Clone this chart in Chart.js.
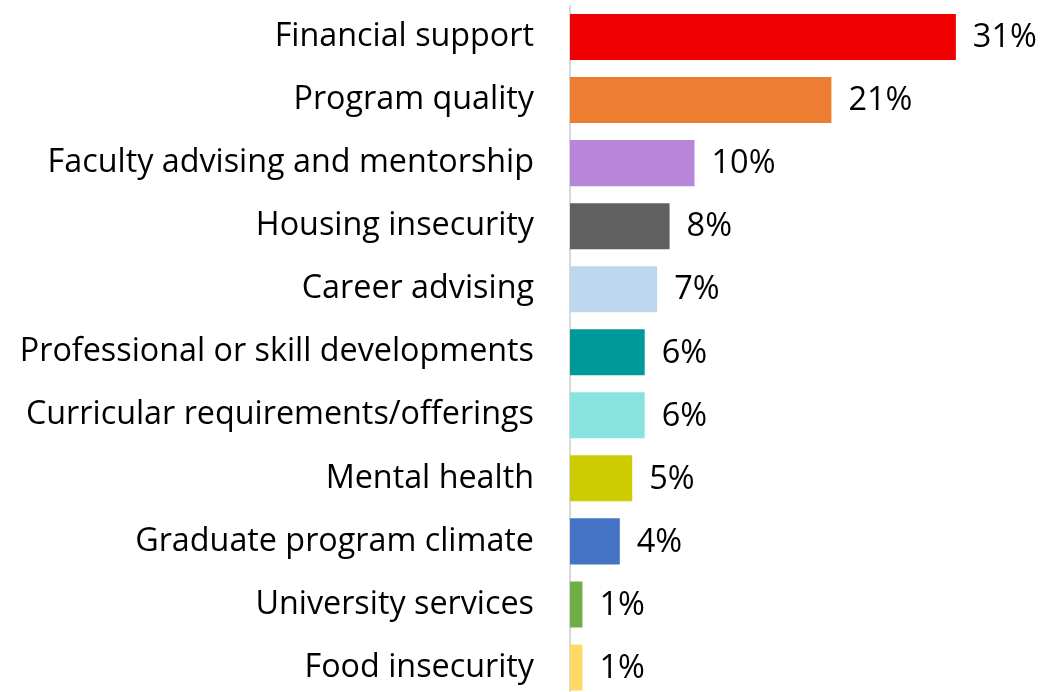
<!DOCTYPE html>
<html>
<head>
<meta charset="utf-8">
<script src="https://cdn.jsdelivr.net/npm/chart.js@4"></script>
<style>
  html, body { margin: 0; padding: 0; background: #fff; overflow: hidden; }
  #wrap { width: 1063px; height: 699px; }
</style>
</head>
<body>
<div id="wrap"><canvas id="barChart" width="1063" height="699"></canvas></div>
<script>
const categories = [
  'Financial support',
  'Program quality',
  'Faculty advising and mentorship',
  'Housing insecurity',
  'Career advising',
  'Professional or skill developments',
  'Curricular requirements/offerings',
  'Mental health',
  'Graduate program climate',
  'University services',
  'Food insecurity'
];
const percents = [31, 21, 10, 8, 7, 6, 6, 5, 4, 1, 1];
const barColors = [
  '#F00000', '#ED7D31', '#B886D8', '#606060', '#BDD7EE', '#009999',
  '#88E2E0', '#CCCC00', '#4472C4', '#70AD47', '#FFD966'
];

const FONT = '"Open Sans", Lato, sans-serif';

// draws the "31%" style labels after each bar
const valueLabels = {
  id: 'valueLabels',
  afterDatasetsDraw(chart) {
    const ctx = chart.ctx;
    const meta = chart.getDatasetMeta(0);
    ctx.save();
    ctx.font = '32.5px ' + FONT;
    ctx.fillStyle = '#000';
    ctx.textAlign = 'left';
    ctx.textBaseline = 'middle';
    meta.data.forEach((bar, i) => {
      ctx.fillText(percents[i] + '%', bar.x + 17, bar.y + 1);
    });
    ctx.restore();
  }
};

new Chart(document.getElementById('barChart'), {
  type: 'bar',
  data: {
    labels: categories,
    datasets: [{
      data: percents,
      backgroundColor: barColors,
      barPercentage: 0.73,
      categoryPercentage: 1
    }]
  },
  options: {
    indexAxis: 'y',
    responsive: false,
    animation: false,
    layout: { padding: { top: 5.5, right: 20, bottom: 0, left: 0 } },
    plugins: {
      legend: { display: false },
      tooltip: { enabled: false }
    },
    scales: {
      x: {
        min: 0,
        max: 38,
        display: false
      },
      y: {
        afterFit(scale) {
          scale.width = 570;
          // tick padding should not push the plot area down
          scale.paddingTop = 0;
          scale.paddingBottom = 0;
        },
        grid: { display: false, drawTicks: false },
        border: { display: true, color: '#D9D9D9', width: 2 },
        ticks: {
          color: '#000',
          padding: 36,
          font: { family: FONT, size: 32.3 }
        }
      }
    }
  },
  plugins: [valueLabels]
});
</script>
</body>
</html>
